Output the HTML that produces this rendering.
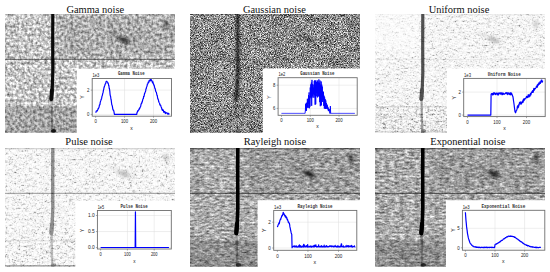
<!DOCTYPE html><html><head><meta charset="utf-8"><style>
html,body{margin:0;padding:0;background:#fff;}
body{width:550px;height:272px;overflow:hidden;position:relative;}
svg{position:absolute;left:0;top:0;}
.t{font-family:"Liberation Serif",serif;font-size:10.45px;fill:#111;}
.k{font-family:"Liberation Sans",sans-serif;fill:#222;}
.m{font-family:"Liberation Mono",monospace;font-weight:bold;fill:#333;}
</style></head><body>
<svg width="550" height="272" viewBox="0 0 550 272">
<defs>
<filter id="bl05" x="-50%" y="-50%" width="200%" height="200%"><feGaussianBlur stdDeviation="0.5"/></filter>
<filter id="bl08" x="-50%" y="-50%" width="200%" height="200%"><feGaussianBlur stdDeviation="0.75"/></filter>
<filter id="bl10" x="-50%" y="-50%" width="200%" height="200%"><feGaussianBlur stdDeviation="1.0"/></filter>
<filter id="bl12" x="-50%" y="-50%" width="200%" height="200%"><feGaussianBlur stdDeviation="1.2"/></filter>
<filter id="bl3" x="-50%" y="-50%" width="200%" height="200%"><feGaussianBlur stdDeviation="3"/></filter>
<filter id="bl15" x="-50%" y="-50%" width="200%" height="200%"><feGaussianBlur stdDeviation="1.5"/></filter>

<filter id="nz0" x="0" y="0" width="100%" height="100%" color-interpolation-filters="sRGB">
<feTurbulence type="fractalNoise" baseFrequency="0.7" numOctaves="1" seed="3" result="t1"/>
<feColorMatrix in="t1" type="matrix" values="1 0 0 0 0  1 0 0 0 0  1 0 0 0 0  0 0 0 0 1" result="f"/>
<feTurbulence type="fractalNoise" baseFrequency="0.35 0.35" numOctaves="2" seed="23" result="t3"/>
<feColorMatrix in="t3" type="matrix" values="1 0 0 0 0  1 0 0 0 0  1 0 0 0 0  0 0 0 0 1" result="d"/>
<feTurbulence type="fractalNoise" baseFrequency="0.05 0.12" numOctaves="2" seed="53" result="t2"/>
<feColorMatrix in="t2" type="matrix" values="1 0 0 0 0  1 0 0 0 0  1 0 0 0 0  0 0 0 0 1" result="c"/>
<feComposite in="f" in2="d" operator="arithmetic" k1="0" k2="0.25" k3="1.05" k4="-0.150" result="m1"/>
<feComposite in="m1" in2="c" operator="arithmetic" k1="0" k2="1" k3="0.15" k4="-0.075" result="m"/>
<feColorMatrix in="m" type="matrix" values="1 0 0 0 0  1 0 0 0 0  1 0 0 0 0  0 0 0 0 1" result="g"/>
<feGaussianBlur in="g" stdDeviation="0.55" result="h"/>
<feComponentTransfer in="h"><feFuncR type="table" tableValues="0.33 1.23"/><feFuncG type="table" tableValues="0.33 1.23"/><feFuncB type="table" tableValues="0.33 1.23"/></feComponentTransfer>
</filter>
<clipPath id="cp0"><rect x="0" y="0" width="170" height="118.7"/></clipPath>
<filter id="nz1" x="0" y="0" width="100%" height="100%" color-interpolation-filters="sRGB">
<feTurbulence type="fractalNoise" baseFrequency="1.3" numOctaves="1" seed="5" result="t1"/>
<feColorMatrix in="t1" type="matrix" values="1 0 0 0 0  1 0 0 0 0  1 0 0 0 0  0 0 0 0 1" result="f"/>
<feTurbulence type="fractalNoise" baseFrequency="0.25 0.45" numOctaves="2" seed="25" result="t3"/>
<feColorMatrix in="t3" type="matrix" values="1 0 0 0 0  1 0 0 0 0  1 0 0 0 0  0 0 0 0 1" result="d"/>
<feTurbulence type="fractalNoise" baseFrequency="0.05 0.12" numOctaves="2" seed="55" result="t2"/>
<feColorMatrix in="t2" type="matrix" values="1 0 0 0 0  1 0 0 0 0  1 0 0 0 0  0 0 0 0 1" result="c"/>
<feComposite in="f" in2="d" operator="arithmetic" k1="0" k2="1.3" k3="0.06" k4="-0.180" result="m1"/>
<feComposite in="m1" in2="c" operator="arithmetic" k1="0" k2="1" k3="0.15" k4="-0.075" result="m"/>
<feColorMatrix in="m" type="matrix" values="1 0 0 0 0  1 0 0 0 0  1 0 0 0 0  0 0 0 0 1" result="g"/>
<feGaussianBlur in="g" stdDeviation="0.7" result="h"/>
<feComponentTransfer in="h"><feFuncR type="table" tableValues="-0.13 1.23"/><feFuncG type="table" tableValues="-0.13 1.23"/><feFuncB type="table" tableValues="-0.13 1.23"/></feComponentTransfer>
</filter>
<clipPath id="cp1"><rect x="0" y="0" width="170" height="118.7"/></clipPath>
<filter id="nz2" x="0" y="0" width="100%" height="100%" color-interpolation-filters="sRGB">
<feTurbulence type="fractalNoise" baseFrequency="0.7" numOctaves="1" seed="7" result="t1"/>
<feColorMatrix in="t1" type="matrix" values="1 0 0 0 0  1 0 0 0 0  1 0 0 0 0  0 0 0 0 1" result="f"/>
<feTurbulence type="fractalNoise" baseFrequency="0.25 0.45" numOctaves="2" seed="27" result="t3"/>
<feColorMatrix in="t3" type="matrix" values="1 0 0 0 0  1 0 0 0 0  1 0 0 0 0  0 0 0 0 1" result="d"/>
<feTurbulence type="fractalNoise" baseFrequency="0.05 0.12" numOctaves="2" seed="57" result="t2"/>
<feColorMatrix in="t2" type="matrix" values="1 0 0 0 0  1 0 0 0 0  1 0 0 0 0  0 0 0 0 1" result="c"/>
<feComposite in="f" in2="d" operator="arithmetic" k1="0" k2="0.8" k3="0.8" k4="-0.300" result="m1"/>
<feComposite in="m1" in2="c" operator="arithmetic" k1="0" k2="1" k3="0.15" k4="-0.075" result="m"/>
<feColorMatrix in="m" type="matrix" values="1 0 0 0 0  1 0 0 0 0  1 0 0 0 0  0 0 0 0 1" result="g"/>
<feGaussianBlur in="g" stdDeviation="0.0" result="h"/>
<feComponentTransfer in="h"><feFuncR type="table" tableValues="0.5 0.68 0.84 0.94 0.98 1 1 1"/><feFuncG type="table" tableValues="0.5 0.68 0.84 0.94 0.98 1 1 1"/><feFuncB type="table" tableValues="0.5 0.68 0.84 0.94 0.98 1 1 1"/></feComponentTransfer>
</filter>
<filter id="nzb2" x="0" y="0" width="100%" height="100%" color-interpolation-filters="sRGB">
<feTurbulence type="fractalNoise" baseFrequency="0.7" numOctaves="1" seed="14" result="t1"/>
<feColorMatrix in="t1" type="matrix" values="1 0 0 0 0  1 0 0 0 0  1 0 0 0 0  0 0 0 0 1" result="f"/>
<feTurbulence type="fractalNoise" baseFrequency="0.25 0.45" numOctaves="2" seed="34" result="t3"/>
<feColorMatrix in="t3" type="matrix" values="1 0 0 0 0  1 0 0 0 0  1 0 0 0 0  0 0 0 0 1" result="d"/>
<feTurbulence type="fractalNoise" baseFrequency="0.05 0.12" numOctaves="2" seed="64" result="t2"/>
<feColorMatrix in="t2" type="matrix" values="1 0 0 0 0  1 0 0 0 0  1 0 0 0 0  0 0 0 0 1" result="c"/>
<feComposite in="f" in2="d" operator="arithmetic" k1="0" k2="0.8" k3="0.8" k4="-0.300" result="m1"/>
<feComposite in="m1" in2="c" operator="arithmetic" k1="0" k2="1" k3="0.15" k4="-0.075" result="m"/>
<feColorMatrix in="m" type="matrix" values="1 0 0 0 0  1 0 0 0 0  1 0 0 0 0  0 0 0 0 1" result="g"/>
<feGaussianBlur in="g" stdDeviation="0.0" result="h"/>
<feComponentTransfer in="h"><feFuncR type="table" tableValues="0.3 0.5 0.72 0.88 0.96 1 1 1"/><feFuncG type="table" tableValues="0.3 0.5 0.72 0.88 0.96 1 1 1"/><feFuncB type="table" tableValues="0.3 0.5 0.72 0.88 0.96 1 1 1"/></feComponentTransfer>
</filter>
<clipPath id="cp2"><rect x="0" y="0" width="170" height="118.7"/></clipPath>
<filter id="nz3" x="0" y="0" width="100%" height="100%" color-interpolation-filters="sRGB">
<feTurbulence type="fractalNoise" baseFrequency="0.7" numOctaves="1" seed="9" result="t1"/>
<feColorMatrix in="t1" type="matrix" values="1 0 0 0 0  1 0 0 0 0  1 0 0 0 0  0 0 0 0 1" result="f"/>
<feTurbulence type="fractalNoise" baseFrequency="0.25 0.45" numOctaves="2" seed="29" result="t3"/>
<feColorMatrix in="t3" type="matrix" values="1 0 0 0 0  1 0 0 0 0  1 0 0 0 0  0 0 0 0 1" result="d"/>
<feTurbulence type="fractalNoise" baseFrequency="0.05 0.12" numOctaves="2" seed="59" result="t2"/>
<feColorMatrix in="t2" type="matrix" values="1 0 0 0 0  1 0 0 0 0  1 0 0 0 0  0 0 0 0 1" result="c"/>
<feComposite in="f" in2="d" operator="arithmetic" k1="0" k2="0.8" k3="0.8" k4="-0.300" result="m1"/>
<feComposite in="m1" in2="c" operator="arithmetic" k1="0" k2="1" k3="0.15" k4="-0.075" result="m"/>
<feColorMatrix in="m" type="matrix" values="1 0 0 0 0  1 0 0 0 0  1 0 0 0 0  0 0 0 0 1" result="g"/>
<feGaussianBlur in="g" stdDeviation="0.0" result="h"/>
<feComponentTransfer in="h"><feFuncR type="table" tableValues="0.45 0.66 0.83 0.94 0.98 1 1 1"/><feFuncG type="table" tableValues="0.45 0.66 0.83 0.94 0.98 1 1 1"/><feFuncB type="table" tableValues="0.45 0.66 0.83 0.94 0.98 1 1 1"/></feComponentTransfer>
</filter>
<filter id="nzb3" x="0" y="0" width="100%" height="100%" color-interpolation-filters="sRGB">
<feTurbulence type="fractalNoise" baseFrequency="0.7" numOctaves="1" seed="16" result="t1"/>
<feColorMatrix in="t1" type="matrix" values="1 0 0 0 0  1 0 0 0 0  1 0 0 0 0  0 0 0 0 1" result="f"/>
<feTurbulence type="fractalNoise" baseFrequency="0.25 0.45" numOctaves="2" seed="36" result="t3"/>
<feColorMatrix in="t3" type="matrix" values="1 0 0 0 0  1 0 0 0 0  1 0 0 0 0  0 0 0 0 1" result="d"/>
<feTurbulence type="fractalNoise" baseFrequency="0.05 0.12" numOctaves="2" seed="66" result="t2"/>
<feColorMatrix in="t2" type="matrix" values="1 0 0 0 0  1 0 0 0 0  1 0 0 0 0  0 0 0 0 1" result="c"/>
<feComposite in="f" in2="d" operator="arithmetic" k1="0" k2="0.8" k3="0.8" k4="-0.300" result="m1"/>
<feComposite in="m1" in2="c" operator="arithmetic" k1="0" k2="1" k3="0.15" k4="-0.075" result="m"/>
<feColorMatrix in="m" type="matrix" values="1 0 0 0 0  1 0 0 0 0  1 0 0 0 0  0 0 0 0 1" result="g"/>
<feGaussianBlur in="g" stdDeviation="0.0" result="h"/>
<feComponentTransfer in="h"><feFuncR type="table" tableValues="0.4 0.6 0.8 0.92 0.98 1 1 1"/><feFuncG type="table" tableValues="0.4 0.6 0.8 0.92 0.98 1 1 1"/><feFuncB type="table" tableValues="0.4 0.6 0.8 0.92 0.98 1 1 1"/></feComponentTransfer>
</filter>
<clipPath id="cp3"><rect x="0" y="0" width="170" height="118.7"/></clipPath>
<filter id="nz4" x="0" y="0" width="100%" height="100%" color-interpolation-filters="sRGB">
<feTurbulence type="fractalNoise" baseFrequency="0.7" numOctaves="1" seed="11" result="t1"/>
<feColorMatrix in="t1" type="matrix" values="1 0 0 0 0  1 0 0 0 0  1 0 0 0 0  0 0 0 0 1" result="f"/>
<feTurbulence type="fractalNoise" baseFrequency="0.2 0.5" numOctaves="2" seed="31" result="t3"/>
<feColorMatrix in="t3" type="matrix" values="1 0 0 0 0  1 0 0 0 0  1 0 0 0 0  0 0 0 0 1" result="d"/>
<feTurbulence type="fractalNoise" baseFrequency="0.05 0.12" numOctaves="2" seed="61" result="t2"/>
<feColorMatrix in="t2" type="matrix" values="1 0 0 0 0  1 0 0 0 0  1 0 0 0 0  0 0 0 0 1" result="c"/>
<feComposite in="f" in2="d" operator="arithmetic" k1="0" k2="0.35" k3="0.9" k4="-0.125" result="m1"/>
<feComposite in="m1" in2="c" operator="arithmetic" k1="0" k2="1" k3="0.15" k4="-0.075" result="m"/>
<feColorMatrix in="m" type="matrix" values="1 0 0 0 0  1 0 0 0 0  1 0 0 0 0  0 0 0 0 1" result="g"/>
<feGaussianBlur in="g" stdDeviation="0.6" result="h"/>
<feComponentTransfer in="h"><feFuncR type="table" tableValues="0.19 1.15"/><feFuncG type="table" tableValues="0.19 1.15"/><feFuncB type="table" tableValues="0.19 1.15"/></feComponentTransfer>
</filter>
<clipPath id="cp4"><rect x="0" y="0" width="170" height="118.7"/></clipPath>
<filter id="nz5" x="0" y="0" width="100%" height="100%" color-interpolation-filters="sRGB">
<feTurbulence type="fractalNoise" baseFrequency="0.7" numOctaves="1" seed="13" result="t1"/>
<feColorMatrix in="t1" type="matrix" values="1 0 0 0 0  1 0 0 0 0  1 0 0 0 0  0 0 0 0 1" result="f"/>
<feTurbulence type="fractalNoise" baseFrequency="0.2 0.5" numOctaves="2" seed="33" result="t3"/>
<feColorMatrix in="t3" type="matrix" values="1 0 0 0 0  1 0 0 0 0  1 0 0 0 0  0 0 0 0 1" result="d"/>
<feTurbulence type="fractalNoise" baseFrequency="0.05 0.12" numOctaves="2" seed="63" result="t2"/>
<feColorMatrix in="t2" type="matrix" values="1 0 0 0 0  1 0 0 0 0  1 0 0 0 0  0 0 0 0 1" result="c"/>
<feComposite in="f" in2="d" operator="arithmetic" k1="0" k2="0.35" k3="0.9" k4="-0.125" result="m1"/>
<feComposite in="m1" in2="c" operator="arithmetic" k1="0" k2="1" k3="0.15" k4="-0.075" result="m"/>
<feColorMatrix in="m" type="matrix" values="1 0 0 0 0  1 0 0 0 0  1 0 0 0 0  0 0 0 0 1" result="g"/>
<feGaussianBlur in="g" stdDeviation="0.6" result="h"/>
<feComponentTransfer in="h"><feFuncR type="table" tableValues="0.19 1.15"/><feFuncG type="table" tableValues="0.19 1.15"/><feFuncB type="table" tableValues="0.19 1.15"/></feComponentTransfer>
</filter>
<clipPath id="cp5"><rect x="0" y="0" width="170" height="118.7"/></clipPath>
</defs>
<g transform="translate(5,14)" clip-path="url(#cp0)">
<rect x="0" y="0" width="170" height="118.7" filter="url(#nz0)"/>
<rect x="0" y="0" width="170" height="1.3" fill="#000" opacity="0.10"/>
<rect x="0" y="117.10000000000001" width="170" height="1.6" fill="#000" opacity="0.10"/>
<rect x="0" y="92.5" width="170" height="27" fill="#000" opacity="0.17"/>
<rect x="0" y="44.8" width="170" height="1.1" fill="#000" opacity="0.50" filter="url(#bl05)"/>
<g opacity="0.95" filter="url(#bl08)">
<path d="M47.8 0 L47.7 30 L47.8 60 L47.2 75 L46.3 85.5" stroke="#000" stroke-width="3.2" fill="none" stroke-linecap="round"/>
<path d="M47.0 76 L46.3 85" stroke="#000" stroke-width="3.9" fill="none" stroke-linecap="round"/>
<path d="M46.6 87 L46.8 100 L47.3 119" stroke="#000" stroke-width="2.2" fill="none" opacity="0.3"/>
<ellipse cx="48.5" cy="117" rx="2.6" ry="2" fill="#000" opacity="0.9"/>
</g>
<rect x="54" y="2" width="116" height="41" fill="#000" opacity="0.12" filter="url(#bl3)"/>
<g opacity="0.72" filter="url(#bl15)">
<ellipse cx="119" cy="26" rx="6" ry="2.6" fill="#000" transform="rotate(22 119 26)"/>
<path d="M104 19 L121 27" stroke="#000" stroke-width="2.2" opacity="0.45"/>
<path d="M121 27 L134 23 M121 27 L130 34" stroke="#000" stroke-width="1.2" opacity="0.3"/>
<ellipse cx="161" cy="10" rx="2.5" ry="4" fill="#000" opacity="0.7"/>
</g>
</g>
<text class="t" x="95.3" y="12.9" text-anchor="middle">Gamma noise</text>
<g transform="translate(190,14)" clip-path="url(#cp1)">
<rect x="0" y="0" width="170" height="118.7" filter="url(#nz1)"/>
<rect x="0" y="0" width="170" height="1.3" fill="#000" opacity="0.15"/>
<rect x="0" y="117.10000000000001" width="170" height="1.6" fill="#000" opacity="0.10"/>
<rect x="0" y="92.5" width="170" height="27" fill="#000" opacity="0.05"/>
<rect x="0" y="44.8" width="170" height="1.1" fill="#000" opacity="0.20" filter="url(#bl05)"/>
<g opacity="0.70" filter="url(#bl12)">
<path d="M47.8 0 L47.7 30 L47.8 60 L47.2 75 L46.3 85.5" stroke="#000" stroke-width="3.6" fill="none" stroke-linecap="round"/>
<path d="M47.0 76 L46.3 85" stroke="#000" stroke-width="4.3" fill="none" stroke-linecap="round"/>
<path d="M46.6 87 L46.8 100 L47.3 119" stroke="#000" stroke-width="2.5" fill="none" opacity="0.2"/>
<ellipse cx="48.5" cy="117" rx="2.6" ry="2" fill="#000" opacity="0.6"/>
</g>
<rect x="54" y="2" width="116" height="41" fill="#000" opacity="0.00" filter="url(#bl3)"/>
<g opacity="0.40" filter="url(#bl15)">
<ellipse cx="119" cy="26" rx="6" ry="2.6" fill="#000" transform="rotate(22 119 26)"/>
<path d="M104 19 L121 27" stroke="#000" stroke-width="2.2" opacity="0.45"/>
<path d="M121 27 L134 23 M121 27 L130 34" stroke="#000" stroke-width="1.2" opacity="0.3"/>
<ellipse cx="161" cy="10" rx="2.5" ry="4" fill="#000" opacity="0.7"/>
</g>
</g>
<text class="t" x="274.4" y="12.9" text-anchor="middle">Gaussian noise</text>
<g transform="translate(375,14)" clip-path="url(#cp2)">
<rect x="0" y="0" width="170" height="118.7" filter="url(#nz2)"/>
<rect x="0" y="92.5" width="170" height="26.200000000000003" filter="url(#nzb2)"/>
<rect x="0" y="0" width="170" height="1.3" fill="#000" opacity="0.05"/>
<rect x="0" y="117.10000000000001" width="170" height="1.6" fill="#000" opacity="0.10"/>
<rect x="-4" y="-4" width="48" height="44" fill="#fff" opacity="0.5" filter="url(#bl3)"/>
<rect x="0" y="92.3" width="170" height="1" fill="#000" opacity="0.12"/>
<rect x="0" y="92.5" width="170" height="27" fill="#000" opacity="0.00"/>
<rect x="0" y="44.8" width="170" height="1.1" fill="#000" opacity="0.06" filter="url(#bl05)"/>
<g opacity="0.68" filter="url(#bl08)">
<path d="M47.8 0 L47.7 30 L47.8 60 L47.2 75 L46.3 85.5" stroke="#000" stroke-width="3.2" fill="none" stroke-linecap="round"/>
<path d="M47.0 76 L46.3 85" stroke="#000" stroke-width="3.9" fill="none" stroke-linecap="round"/>
<path d="M46.6 87 L46.8 100 L47.3 119" stroke="#000" stroke-width="2.2" fill="none" opacity="0.5"/>
<ellipse cx="48.5" cy="117" rx="2.6" ry="2" fill="#000" opacity="0.6"/>
</g>
<rect x="54" y="2" width="116" height="41" fill="#000" opacity="0.00" filter="url(#bl3)"/>
<g opacity="0.24" filter="url(#bl15)">
<ellipse cx="119" cy="26" rx="6" ry="2.6" fill="#000" transform="rotate(22 119 26)"/>
<path d="M104 19 L121 27" stroke="#000" stroke-width="2.2" opacity="0.45"/>
<path d="M121 27 L134 23 M121 27 L130 34" stroke="#000" stroke-width="1.2" opacity="0.3"/>
<ellipse cx="161" cy="10" rx="2.5" ry="4" fill="#000" opacity="0.7"/>
</g>
</g>
<text class="t" x="459" y="12.9" text-anchor="middle">Uniform noise</text>
<g transform="translate(5,148)" clip-path="url(#cp3)">
<rect x="0" y="0" width="170" height="118.7" filter="url(#nz3)"/>
<rect x="0" y="92.5" width="170" height="26.200000000000003" filter="url(#nzb3)"/>
<rect x="0" y="0" width="170" height="1.3" fill="#000" opacity="0.15"/>
<rect x="0" y="117.10000000000001" width="170" height="1.6" fill="#000" opacity="0.35"/>
<rect x="0" y="92.3" width="170" height="1" fill="#000" opacity="0.1"/>
<rect x="0" y="92.5" width="170" height="27" fill="#000" opacity="0.00"/>
<rect x="0" y="44.8" width="170" height="1.1" fill="#000" opacity="0.35" filter="url(#bl05)"/>
<g opacity="0.42" filter="url(#bl08)">
<path d="M47.8 0 L47.7 30 L47.8 60 L47.2 75 L46.3 85.5" stroke="#000" stroke-width="3.4" fill="none" stroke-linecap="round"/>
<path d="M47.0 76 L46.3 85" stroke="#000" stroke-width="4.1" fill="none" stroke-linecap="round"/>
<path d="M46.6 87 L46.8 100 L47.3 119" stroke="#000" stroke-width="2.4" fill="none" opacity="0.55"/>
<ellipse cx="48.5" cy="117" rx="2.6" ry="2" fill="#000" opacity="0.6"/>
</g>
<rect x="54" y="2" width="116" height="41" fill="#000" opacity="0.00" filter="url(#bl3)"/>
<g opacity="0.24" filter="url(#bl15)">
<ellipse cx="119" cy="26" rx="6" ry="2.6" fill="#000" transform="rotate(22 119 26)"/>
<path d="M104 19 L121 27" stroke="#000" stroke-width="2.2" opacity="0.45"/>
<path d="M121 27 L134 23 M121 27 L130 34" stroke="#000" stroke-width="1.2" opacity="0.3"/>
<ellipse cx="161" cy="10" rx="2.5" ry="4" fill="#000" opacity="0.7"/>
</g>
</g>
<text class="t" x="89" y="144.7" text-anchor="middle">Pulse noise</text>
<g transform="translate(190,148)" clip-path="url(#cp4)">
<rect x="0" y="0" width="170" height="118.7" filter="url(#nz4)"/>
<rect x="0" y="0" width="170" height="1.3" fill="#000" opacity="0.40"/>
<rect x="0" y="117.10000000000001" width="170" height="1.6" fill="#000" opacity="0.10"/>
<rect x="0" y="92.5" width="170" height="27" fill="#000" opacity="0.17"/>
<rect x="0" y="44.8" width="170" height="1.1" fill="#000" opacity="0.55" filter="url(#bl05)"/>
<g opacity="1.00" filter="url(#bl08)">
<path d="M47.8 0 L47.7 30 L47.8 60 L47.2 75 L46.3 85.5" stroke="#000" stroke-width="3.6" fill="none" stroke-linecap="round"/>
<path d="M47.0 76 L46.3 85" stroke="#000" stroke-width="4.3" fill="none" stroke-linecap="round"/>
<path d="M46.6 87 L46.8 100 L47.3 119" stroke="#000" stroke-width="2.5" fill="none" opacity="0.3"/>
<ellipse cx="48.5" cy="117" rx="2.6" ry="2" fill="#000" opacity="0.6"/>
</g>
<rect x="54" y="2" width="116" height="41" fill="#000" opacity="0.08" filter="url(#bl3)"/>
<g opacity="0.80" filter="url(#bl15)">
<ellipse cx="119" cy="26" rx="6" ry="2.6" fill="#000" transform="rotate(22 119 26)"/>
<path d="M104 19 L121 27" stroke="#000" stroke-width="2.2" opacity="0.45"/>
<path d="M121 27 L134 23 M121 27 L130 34" stroke="#000" stroke-width="1.2" opacity="0.3"/>
<ellipse cx="161" cy="10" rx="2.5" ry="4" fill="#000" opacity="0.7"/>
</g>
</g>
<text class="t" x="274.9" y="144.7" text-anchor="middle">Rayleigh noise</text>
<g transform="translate(375,148)" clip-path="url(#cp5)">
<rect x="0" y="0" width="170" height="118.7" filter="url(#nz5)"/>
<rect x="0" y="0" width="170" height="1.3" fill="#000" opacity="0.40"/>
<rect x="0" y="117.10000000000001" width="170" height="1.6" fill="#000" opacity="0.10"/>
<rect x="0" y="92.5" width="170" height="27" fill="#000" opacity="0.17"/>
<rect x="0" y="44.8" width="170" height="1.1" fill="#000" opacity="0.55" filter="url(#bl05)"/>
<g opacity="1.00" filter="url(#bl08)">
<path d="M47.8 0 L47.7 30 L47.8 60 L47.2 75 L46.3 85.5" stroke="#000" stroke-width="3.6" fill="none" stroke-linecap="round"/>
<path d="M47.0 76 L46.3 85" stroke="#000" stroke-width="4.3" fill="none" stroke-linecap="round"/>
<path d="M46.6 87 L46.8 100 L47.3 119" stroke="#000" stroke-width="2.5" fill="none" opacity="0.3"/>
<ellipse cx="48.5" cy="117" rx="2.6" ry="2" fill="#000" opacity="0.6"/>
</g>
<rect x="54" y="2" width="116" height="41" fill="#000" opacity="0.08" filter="url(#bl3)"/>
<g opacity="0.80" filter="url(#bl15)">
<ellipse cx="119" cy="26" rx="6" ry="2.6" fill="#000" transform="rotate(22 119 26)"/>
<path d="M104 19 L121 27" stroke="#000" stroke-width="2.2" opacity="0.45"/>
<path d="M121 27 L134 23 M121 27 L130 34" stroke="#000" stroke-width="1.2" opacity="0.3"/>
<ellipse cx="161" cy="10" rx="2.5" ry="4" fill="#000" opacity="0.7"/>
</g>
</g>
<text class="t" x="467.8" y="144.7" text-anchor="middle">Exponential noise</text>
<rect x="76.7" y="68.7" width="99.3" height="64.3" fill="#fff"/>
<line x1="124.55" y1="78.5" x2="124.55" y2="116.2" stroke="#dcdcdc" stroke-width="0.5"/>
<line x1="153.50" y1="78.5" x2="153.50" y2="116.2" stroke="#dcdcdc" stroke-width="0.5"/>
<line x1="92.2" y1="114.40" x2="171.5" y2="114.40" stroke="#dcdcdc" stroke-width="0.5"/>
<line x1="92.2" y1="90.10" x2="171.5" y2="90.10" stroke="#dcdcdc" stroke-width="0.5"/>
<polyline points="95.60,112.73 95.89,112.30 96.18,111.47 96.47,110.76 96.76,110.76 97.05,110.81 97.34,110.93 97.63,109.94 97.92,109.21 98.21,108.36 98.49,108.71 98.78,107.69 99.07,107.22 99.36,105.35 99.65,104.64 99.94,104.66 100.23,102.31 100.52,101.31 100.81,100.69 101.10,99.64 101.39,99.16 101.68,98.20 101.97,96.27 102.26,95.75 102.55,94.35 102.84,93.08 103.13,92.20 103.42,90.40 103.71,89.30 104.00,87.63 104.28,87.07 104.57,85.92 104.86,85.23 105.15,84.18 105.44,83.76 105.73,83.39 106.02,81.82 106.31,81.41 106.60,81.34 106.89,81.35 107.18,81.86 107.47,82.14 107.76,82.49 108.05,83.53 108.34,83.50 108.63,85.26 108.92,86.03 109.21,88.30 109.50,89.19 109.79,91.17 110.07,94.28 110.36,95.87 110.65,96.73 110.94,99.20 111.23,100.21 111.52,102.73 111.81,104.75 112.10,105.37 112.39,106.45 112.68,108.35 112.97,109.66 113.26,110.20 113.55,110.07 113.84,111.05 114.13,112.55 114.42,114.40 114.71,114.40 115.00,114.40 115.29,114.40 115.58,114.40 115.86,114.40 116.15,114.40 116.44,114.40 116.73,114.40 117.02,114.40 117.31,114.40 117.60,114.40 117.89,114.40 118.18,114.40 118.47,114.40 118.76,114.40 119.05,114.40 119.34,114.40 119.63,114.40 119.92,114.40 120.21,114.40 120.50,114.40 120.79,114.40 121.08,114.40 121.37,114.40 121.66,114.40 121.94,114.40 122.23,114.40 122.52,114.40 122.81,114.40 123.10,114.40 123.39,114.40 123.68,114.40 123.97,114.40 124.26,114.40 124.55,114.40 124.84,114.40 125.13,114.40 125.42,114.40 125.71,114.40 126.00,114.40 126.29,114.40 126.58,114.40 126.87,114.40 127.16,114.40 127.44,114.40 127.73,114.40 128.02,114.40 128.31,114.40 128.60,114.40 128.89,114.40 129.18,114.40 129.47,114.40 129.76,114.40 130.05,114.40 130.34,114.40 130.63,114.40 130.92,114.40 131.21,114.40 131.50,114.40 131.79,114.40 132.08,114.40 132.37,114.40 132.66,114.40 132.95,114.40 133.23,114.40 133.52,114.40 133.81,114.40 134.10,114.40 134.39,114.40 134.68,114.40 134.97,114.40 135.26,114.40 135.55,114.40 135.84,114.40 136.13,114.40 136.42,114.40 136.71,114.40 137.00,112.54 137.29,112.32 137.58,110.74 137.87,111.45 138.16,110.42 138.45,110.20 138.74,110.20 139.02,108.80 139.31,109.32 139.60,107.90 139.89,108.22 140.18,107.09 140.47,106.80 140.76,106.02 141.05,104.10 141.34,103.63 141.63,103.69 141.92,101.88 142.21,102.17 142.50,100.98 142.79,99.28 143.08,98.71 143.37,98.67 143.66,96.19 143.95,96.52 144.24,95.44 144.53,93.56 144.81,93.30 145.10,92.35 145.39,91.74 145.68,90.72 145.97,88.92 146.26,88.55 146.55,87.03 146.84,86.54 147.13,85.56 147.42,83.91 147.71,83.97 148.00,83.13 148.29,82.00 148.58,82.60 148.87,82.15 149.16,80.44 149.45,80.24 149.74,80.92 150.03,80.83 150.32,79.77 150.60,79.39 150.89,80.69 151.18,79.53 151.47,79.85 151.76,80.60 152.05,81.27 152.34,82.23 152.63,82.84 152.92,81.84 153.21,83.70 153.50,83.60 153.79,85.10 154.08,84.93 154.37,86.16 154.66,87.55 154.95,88.67 155.24,88.68 155.53,90.76 155.82,91.47 156.11,91.91 156.39,92.41 156.68,93.83 156.97,95.40 157.26,95.32 157.55,97.52 157.84,98.82 158.13,99.34 158.42,99.98 158.71,101.54 159.00,102.23 159.29,102.76 159.58,103.23 159.87,104.77 160.16,105.14 160.45,104.96 160.74,105.49 161.03,106.69 161.32,107.25 161.61,108.01 161.90,109.30 162.19,109.99 162.47,110.49 162.76,109.41 163.05,110.18 163.34,110.11 163.63,112.06 163.92,111.34 164.21,111.89 164.50,111.74 164.79,112.68 165.08,111.75 165.37,113.52 165.66,112.91 165.95,112.75 166.24,112.62 166.53,113.03 166.82,113.20 167.11,113.16 167.40,113.04 167.69,114.09 167.97,113.59 168.26,113.29 168.55,113.40 168.84,114.22 169.13,113.63 169.42,113.55" fill="none" stroke="#0000ff" stroke-width="1.2" stroke-linejoin="round"/>
<rect x="92.2" y="78.5" width="79.3" height="37.7" fill="none" stroke="#6e6e6e" stroke-width="0.9"/>
<line x1="95.60" y1="116.2" x2="95.60" y2="117.7" stroke="#6e6e6e" stroke-width="0.6"/>
<text class="k" x="95.60" y="123.3" text-anchor="middle" font-size="4.99" textLength="2.40" lengthAdjust="spacingAndGlyphs">0</text>
<line x1="124.55" y1="116.2" x2="124.55" y2="117.7" stroke="#6e6e6e" stroke-width="0.6"/>
<text class="k" x="124.55" y="123.3" text-anchor="middle" font-size="4.99" textLength="7.19" lengthAdjust="spacingAndGlyphs">100</text>
<line x1="153.50" y1="116.2" x2="153.50" y2="117.7" stroke="#6e6e6e" stroke-width="0.6"/>
<text class="k" x="153.50" y="123.3" text-anchor="middle" font-size="4.99" textLength="7.19" lengthAdjust="spacingAndGlyphs">200</text>
<line x1="90.7" y1="114.40" x2="92.2" y2="114.40" stroke="#6e6e6e" stroke-width="0.6"/>
<text class="k" x="89.4" y="116.20" text-anchor="end" font-size="4.99" textLength="2.40" lengthAdjust="spacingAndGlyphs">0</text>
<line x1="90.7" y1="90.10" x2="92.2" y2="90.10" stroke="#6e6e6e" stroke-width="0.6"/>
<text class="k" x="89.4" y="91.90" text-anchor="end" font-size="4.99" textLength="2.40" lengthAdjust="spacingAndGlyphs">2</text>
<text class="k" x="92.5" y="76.7" font-size="4.99" textLength="6.83" lengthAdjust="spacingAndGlyphs">1e3</text>
<text class="m" x="131.25" y="75.4" text-anchor="middle" font-size="5.19" textLength="26.7" lengthAdjust="spacingAndGlyphs">Gamma Noise</text>
<text class="k" x="131.6" y="129.8" text-anchor="middle" font-size="4.99">x</text>
<text class="k" transform="translate(84.4,97.2) rotate(-90)" text-anchor="middle" font-size="4.99">Y</text>
<rect x="262.8" y="68.5" width="98.19999999999999" height="64.5" fill="#fff"/>
<line x1="310.25" y1="77.7" x2="310.25" y2="115.3" stroke="#dcdcdc" stroke-width="0.5"/>
<line x1="339.00" y1="77.7" x2="339.00" y2="115.3" stroke="#dcdcdc" stroke-width="0.5"/>
<line x1="278.1" y1="108.40" x2="357.2" y2="108.40" stroke="#dcdcdc" stroke-width="0.5"/>
<line x1="278.1" y1="85.20" x2="357.2" y2="85.20" stroke="#dcdcdc" stroke-width="0.5"/>
<polyline points="281.50,113.39 281.79,113.39 282.07,113.39 282.36,113.39 282.65,113.39 282.94,113.39 283.23,113.39 283.51,113.39 283.80,113.39 284.09,113.39 284.38,113.39 284.66,113.39 284.95,113.39 285.24,113.39 285.52,113.39 285.81,113.39 286.10,113.39 286.39,113.39 286.68,113.39 286.96,113.39 287.25,113.39 287.54,113.39 287.82,113.39 288.11,113.39 288.40,113.39 288.69,113.39 288.98,113.39 289.26,113.39 289.55,113.39 289.84,113.39 290.12,113.39 290.41,113.39 290.70,113.39 290.99,113.39 291.27,113.39 291.56,113.39 291.85,113.39 292.14,113.39 292.43,113.39 292.71,113.39 293.00,113.39 293.29,113.39 293.57,113.39 293.86,113.39 294.15,113.39 294.44,113.39 294.73,113.39 295.01,113.39 295.30,113.39 295.59,113.39 295.88,113.39 296.16,113.39 296.45,113.39 296.74,113.39 297.02,113.39 297.31,113.39 297.60,113.39 297.89,113.39 298.18,113.39 298.46,113.39 298.75,113.39 299.04,113.39 299.32,113.39 299.61,113.39 299.90,113.39 300.19,113.39 300.48,113.39 300.76,113.39 301.05,113.39 301.34,113.39 301.62,113.39 301.91,113.39 302.20,113.39 302.49,113.39 302.77,113.39 303.06,113.39 303.35,113.39 303.64,113.39 303.93,113.39 304.21,113.39 304.50,113.39 304.79,113.39 305.07,113.39 305.36,110.40 305.65,104.12 305.94,111.01 306.23,102.92 306.51,110.68 306.80,102.74 307.09,107.88 307.38,98.79 307.66,107.12 307.95,101.21 308.24,107.89 308.52,95.20 308.81,103.89 309.10,92.40 309.39,108.27 309.68,96.31 309.96,106.58 310.25,87.52 310.54,97.35 310.82,84.40 311.11,98.37 311.40,82.58 311.69,105.79 311.98,79.88 312.26,96.07 312.55,84.29 312.84,97.53 313.12,84.60 313.41,94.31 313.70,87.54 313.99,97.70 314.27,81.06 314.56,95.31 314.85,80.20 315.14,104.73 315.43,80.67 315.71,104.20 316.00,85.02 316.29,96.25 316.57,81.92 316.86,93.06 317.15,80.30 317.44,97.39 317.73,81.25 318.01,93.61 318.30,82.56 318.59,96.32 318.88,79.40 319.16,96.58 319.45,82.74 319.74,102.16 320.02,80.55 320.31,106.20 320.60,84.70 320.89,104.98 321.18,81.53 321.46,105.43 321.75,84.61 322.04,96.65 322.32,86.63 322.61,101.89 322.90,91.23 323.19,99.76 323.48,92.13 323.76,105.92 324.05,95.73 324.34,108.49 324.62,97.30 324.91,108.50 325.20,99.19 325.49,108.95 325.77,100.45 326.06,109.00 326.35,102.95 326.64,108.16 326.93,104.48 327.21,109.02 327.50,105.50 327.79,109.39 328.07,107.38 328.36,111.12 328.65,108.68 328.94,110.98 329.23,109.01 329.51,112.20 329.80,113.39 330.09,113.39 330.38,106.08 330.66,113.39 330.95,113.39 331.24,113.39 331.52,113.39 331.81,113.39 332.10,113.39 332.39,113.39 332.68,113.39 332.96,113.39 333.25,113.39 333.54,113.39 333.82,113.39 334.11,113.39 334.40,113.39 334.69,113.39 334.98,113.39 335.26,113.39 335.55,113.39 335.84,113.39 336.12,113.39 336.41,113.39 336.70,113.39 336.99,113.39 337.27,113.39 337.56,113.39 337.85,113.39 338.14,113.39 338.43,113.39 338.71,113.39 339.00,113.39 339.29,113.39 339.57,113.39 339.86,113.39 340.15,113.39 340.44,113.39 340.73,113.39 341.01,113.39 341.30,113.39 341.59,113.39 341.88,113.39 342.16,113.39 342.45,113.39 342.74,113.39 343.02,113.39 343.31,113.39 343.60,113.39 343.89,113.39 344.18,113.39 344.46,113.39 344.75,113.39 345.04,113.39 345.32,113.39 345.61,113.39 345.90,113.39 346.19,113.39 346.48,113.39 346.76,113.39 347.05,113.39 347.34,113.39 347.62,113.39 347.91,113.39 348.20,113.39 348.49,113.39 348.77,113.39 349.06,113.39 349.35,113.39 349.64,113.39 349.93,113.39 350.21,113.39 350.50,113.39 350.79,113.39 351.07,113.39 351.36,113.39 351.65,113.39 351.94,113.39 352.23,113.39 352.51,113.39 352.80,113.39 353.09,113.39 353.38,113.39 353.66,113.39 353.95,113.39 354.24,113.39 354.52,113.39 354.81,113.39" fill="none" stroke="#0000ff" stroke-width="0.9" stroke-linejoin="round"/>
<rect x="278.1" y="77.7" width="79.09999999999997" height="37.599999999999994" fill="none" stroke="#6e6e6e" stroke-width="0.9"/>
<line x1="281.50" y1="115.3" x2="281.50" y2="116.8" stroke="#6e6e6e" stroke-width="0.6"/>
<text class="k" x="281.50" y="122.3" text-anchor="middle" font-size="4.96" textLength="2.38" lengthAdjust="spacingAndGlyphs">0</text>
<line x1="310.25" y1="115.3" x2="310.25" y2="116.8" stroke="#6e6e6e" stroke-width="0.6"/>
<text class="k" x="310.25" y="122.3" text-anchor="middle" font-size="4.96" textLength="7.14" lengthAdjust="spacingAndGlyphs">100</text>
<line x1="339.00" y1="115.3" x2="339.00" y2="116.8" stroke="#6e6e6e" stroke-width="0.6"/>
<text class="k" x="339.00" y="122.3" text-anchor="middle" font-size="4.96" textLength="7.14" lengthAdjust="spacingAndGlyphs">200</text>
<line x1="276.6" y1="108.40" x2="278.1" y2="108.40" stroke="#6e6e6e" stroke-width="0.6"/>
<text class="k" x="275.3" y="110.20" text-anchor="end" font-size="4.96" textLength="2.38" lengthAdjust="spacingAndGlyphs">6</text>
<line x1="276.6" y1="85.20" x2="278.1" y2="85.20" stroke="#6e6e6e" stroke-width="0.6"/>
<text class="k" x="275.3" y="87.00" text-anchor="end" font-size="4.96" textLength="2.38" lengthAdjust="spacingAndGlyphs">8</text>
<text class="k" x="278.40000000000003" y="76.3" font-size="4.96" textLength="6.78" lengthAdjust="spacingAndGlyphs">1e2</text>
<text class="m" x="317.3" y="75.2" text-anchor="middle" font-size="5.16" textLength="34.2" lengthAdjust="spacingAndGlyphs">Gaussian Noise</text>
<text class="k" x="317.5" y="128.2" text-anchor="middle" font-size="4.96">x</text>
<text class="k" transform="translate(271.2,97) rotate(-90)" text-anchor="middle" font-size="4.96">Y</text>
<rect x="447" y="68.4" width="103" height="64.6" fill="#fff"/>
<line x1="497.00" y1="78.4" x2="497.00" y2="116.6" stroke="#dcdcdc" stroke-width="0.5"/>
<line x1="526.50" y1="78.4" x2="526.50" y2="116.6" stroke="#dcdcdc" stroke-width="0.5"/>
<line x1="463.7" y1="115.10" x2="545.2" y2="115.10" stroke="#dcdcdc" stroke-width="0.5"/>
<line x1="463.7" y1="92.10" x2="545.2" y2="92.10" stroke="#dcdcdc" stroke-width="0.5"/>
<polyline points="467.50,115.10 467.80,115.10 468.09,115.10 468.38,115.10 468.68,115.10 468.98,115.10 469.27,115.10 469.56,115.10 469.86,115.10 470.15,115.10 470.45,115.10 470.75,115.10 471.04,115.10 471.33,115.10 471.63,115.10 471.93,115.10 472.22,115.10 472.51,115.10 472.81,115.10 473.11,115.10 473.40,115.10 473.69,115.10 473.99,115.10 474.29,115.10 474.58,115.10 474.88,115.10 475.17,115.10 475.46,115.10 475.76,115.10 476.06,115.10 476.35,115.10 476.64,115.10 476.94,115.10 477.24,115.10 477.53,115.10 477.82,115.10 478.12,115.10 478.42,115.10 478.71,115.10 479.00,115.10 479.30,115.10 479.60,115.10 479.89,115.10 480.19,115.10 480.48,115.10 480.77,115.10 481.07,115.10 481.37,115.10 481.66,115.10 481.95,115.10 482.25,115.10 482.55,115.10 482.84,115.10 483.13,115.10 483.43,115.10 483.73,115.10 484.02,115.10 484.31,115.10 484.61,115.10 484.90,115.10 485.20,115.10 485.50,115.10 485.79,115.10 486.08,115.10 486.38,115.10 486.68,115.10 486.97,115.10 487.26,115.10 487.56,115.10 487.86,115.10 488.15,115.10 488.44,115.10 488.74,115.10 489.04,115.10 489.33,115.10 489.62,115.10 489.92,115.10 490.21,115.10 490.51,115.10 490.81,115.10 491.10,94.43 491.39,93.72 491.69,94.12 491.99,93.59 492.28,93.54 492.57,94.82 492.87,94.94 493.17,93.05 493.46,94.38 493.75,94.44 494.05,92.69 494.35,93.89 494.64,93.05 494.94,93.88 495.23,93.51 495.52,94.63 495.82,93.51 496.12,92.98 496.41,93.77 496.70,93.27 497.00,93.43 497.30,94.83 497.59,93.23 497.88,93.62 498.18,94.28 498.48,94.90 498.77,92.98 499.06,93.89 499.36,93.32 499.65,92.95 499.95,93.33 500.25,92.86 500.54,94.07 500.83,93.13 501.13,93.95 501.43,92.82 501.72,92.95 502.01,94.75 502.31,94.66 502.61,94.48 502.90,92.75 503.19,93.97 503.49,93.53 503.78,94.28 504.08,93.81 504.38,94.09 504.67,94.17 504.96,93.63 505.26,93.63 505.56,92.90 505.85,93.41 506.14,92.84 506.44,93.01 506.74,92.70 507.03,93.43 507.32,94.60 507.62,93.00 507.92,92.76 508.21,92.89 508.50,93.67 508.80,93.33 509.10,94.49 509.39,93.06 509.69,93.66 509.98,94.32 510.27,94.83 510.57,93.01 510.87,92.70 511.16,94.77 511.45,93.13 511.75,93.82 512.04,94.54 512.34,95.26 512.63,95.98 512.93,96.70 513.23,98.71 513.52,100.72 513.82,102.74 514.11,104.75 514.40,107.05 514.70,109.35 515.00,111.65 515.29,112.22 515.59,112.80 515.88,111.83 516.17,110.87 516.47,110.19 516.76,110.06 517.06,108.63 517.36,106.63 517.65,105.82 517.95,108.01 518.24,105.70 518.53,107.06 518.83,104.42 519.12,105.19 519.42,102.95 519.72,102.36 520.01,103.63 520.30,101.77 520.60,103.72 520.89,104.21 521.19,102.26 521.49,103.82 521.78,103.02 522.08,102.08 522.37,101.16 522.66,102.35 522.96,102.45 523.25,99.53 523.55,101.05 523.85,98.71 524.14,98.64 524.43,100.04 524.73,99.51 525.02,99.05 525.32,98.39 525.62,98.28 525.91,98.13 526.21,97.67 526.50,96.37 526.79,97.50 527.09,97.48 527.38,96.28 527.68,97.57 527.98,97.10 528.27,94.65 528.57,95.86 528.86,95.50 529.15,96.97 529.45,95.40 529.75,94.60 530.04,96.05 530.34,93.77 530.63,93.36 530.92,94.85 531.22,92.66 531.51,92.83 531.81,91.78 532.11,92.48 532.40,90.98 532.69,90.52 532.99,92.47 533.28,91.99 533.58,89.65 533.88,88.37 534.17,90.30 534.47,89.29 534.76,88.49 535.05,89.01 535.35,88.51 535.64,88.32 535.94,87.78 536.24,86.70 536.53,87.29 536.83,86.69 537.12,85.06 537.41,87.10 537.71,85.00 538.00,84.10 538.30,85.12 538.60,85.04 538.89,82.81 539.18,84.27 539.48,84.08 539.77,82.93 540.07,81.72 540.37,83.29 540.66,82.22 540.96,81.83 541.25,80.20 541.54,81.45 541.84,80.09 542.13,82.28 542.43,81.72 542.73,80.69" fill="none" stroke="#0000ff" stroke-width="1.2" stroke-linejoin="round"/>
<rect x="463.7" y="78.4" width="81.50000000000006" height="38.19999999999999" fill="none" stroke="#6e6e6e" stroke-width="0.9"/>
<line x1="467.50" y1="116.6" x2="467.50" y2="118.1" stroke="#6e6e6e" stroke-width="0.6"/>
<text class="k" x="467.50" y="123.6" text-anchor="middle" font-size="5.09" textLength="2.44" lengthAdjust="spacingAndGlyphs">0</text>
<line x1="497.00" y1="116.6" x2="497.00" y2="118.1" stroke="#6e6e6e" stroke-width="0.6"/>
<text class="k" x="497.00" y="123.6" text-anchor="middle" font-size="5.09" textLength="7.32" lengthAdjust="spacingAndGlyphs">100</text>
<line x1="526.50" y1="116.6" x2="526.50" y2="118.1" stroke="#6e6e6e" stroke-width="0.6"/>
<text class="k" x="526.50" y="123.6" text-anchor="middle" font-size="5.09" textLength="7.32" lengthAdjust="spacingAndGlyphs">200</text>
<line x1="462.2" y1="115.10" x2="463.7" y2="115.10" stroke="#6e6e6e" stroke-width="0.6"/>
<text class="k" x="460.9" y="116.90" text-anchor="end" font-size="5.09" textLength="2.44" lengthAdjust="spacingAndGlyphs">0</text>
<line x1="462.2" y1="92.10" x2="463.7" y2="92.10" stroke="#6e6e6e" stroke-width="0.6"/>
<text class="k" x="460.9" y="93.90" text-anchor="end" font-size="5.09" textLength="2.44" lengthAdjust="spacingAndGlyphs">2</text>
<text class="k" x="464.0" y="76.6" font-size="5.09" textLength="6.96" lengthAdjust="spacingAndGlyphs">1e3</text>
<text class="m" x="504.2" y="75.5" text-anchor="middle" font-size="5.29" textLength="33.0" lengthAdjust="spacingAndGlyphs">Uniform Noise</text>
<text class="k" x="504.6" y="129.8" text-anchor="middle" font-size="5.09">x</text>
<text class="k" transform="translate(456.1,97.8) rotate(-90)" text-anchor="middle" font-size="5.09">Y</text>
<rect x="75.3" y="200.9" width="100.7" height="67.1" fill="#fff"/>
<line x1="127.40" y1="210.5" x2="127.40" y2="249" stroke="#dcdcdc" stroke-width="0.5"/>
<line x1="154.20" y1="210.5" x2="154.20" y2="249" stroke="#dcdcdc" stroke-width="0.5"/>
<line x1="97.4" y1="247.60" x2="171.3" y2="247.60" stroke="#dcdcdc" stroke-width="0.5"/>
<line x1="97.4" y1="231.55" x2="171.3" y2="231.55" stroke="#dcdcdc" stroke-width="0.5"/>
<line x1="97.4" y1="215.50" x2="171.3" y2="215.50" stroke="#dcdcdc" stroke-width="0.5"/>
<polyline points="100.60,247.50 100.87,247.50 101.14,247.50 101.40,247.50 101.67,247.50 101.94,247.50 102.21,247.50 102.48,247.50 102.74,247.50 103.01,247.50 103.28,247.50 103.55,247.50 103.82,247.50 104.08,247.50 104.35,247.50 104.62,247.50 104.89,247.50 105.16,247.50 105.42,247.50 105.69,247.50 105.96,247.50 106.23,247.50 106.50,247.50 106.76,247.50 107.03,247.50 107.30,247.50 107.57,247.50 107.84,247.50 108.10,247.50 108.37,247.50 108.64,247.50 108.91,247.50 109.18,247.50 109.44,247.50 109.71,247.50 109.98,247.50 110.25,247.50 110.52,247.50 110.78,247.50 111.05,247.50 111.32,247.50 111.59,247.50 111.86,247.50 112.12,247.50 112.39,247.50 112.66,247.50 112.93,247.50 113.20,247.50 113.46,247.50 113.73,247.50 114.00,247.50 114.27,247.50 114.54,247.50 114.80,247.50 115.07,247.50 115.34,247.50 115.61,247.50 115.88,247.50 116.14,247.50 116.41,247.50 116.68,247.50 116.95,247.50 117.22,247.50 117.48,247.50 117.75,247.50 118.02,247.50 118.29,247.50 118.56,247.50 118.82,247.50 119.09,247.50 119.36,247.50 119.63,247.50 119.90,247.50 120.16,247.50 120.43,247.50 120.70,247.50 120.97,247.50 121.24,247.50 121.50,247.50 121.77,247.50 122.04,247.50 122.31,247.50 122.58,247.50 122.84,247.50 123.11,247.50 123.38,247.50 123.65,247.50 123.92,247.50 124.18,247.50 124.45,247.50 124.72,247.50 124.99,247.50 125.26,247.50 125.52,247.50 125.79,247.50 126.06,247.50 126.33,247.50 126.60,247.50 126.86,247.50 127.13,247.50 127.40,247.50 127.67,247.50 127.94,247.50 128.20,247.50 128.47,247.50 128.74,247.50 129.01,247.50 129.28,247.50 129.54,247.50 129.81,247.50 130.08,247.50 130.35,247.50 130.62,247.50 130.88,247.50 131.15,247.50 131.42,247.50 131.69,247.50 131.96,247.50 132.22,247.50 132.49,247.50 132.76,247.50 133.03,247.50 133.30,247.50 133.56,247.50 133.83,247.50 134.10,247.50 134.37,247.50 134.64,247.50 134.90,247.50 135.17,247.50 135.44,211.97 135.71,247.50 135.98,247.50 136.24,247.50 136.51,247.50 136.78,247.50 137.05,247.50 137.32,247.50 137.58,247.50 137.85,247.50 138.12,247.50 138.39,247.50 138.66,247.50 138.92,247.50 139.19,247.50 139.46,247.50 139.73,247.50 140.00,247.50 140.26,247.50 140.53,247.50 140.80,247.50 141.07,247.50 141.34,247.50 141.60,247.50 141.87,247.50 142.14,247.50 142.41,247.50 142.68,247.50 142.94,247.50 143.21,247.50 143.48,247.50 143.75,247.50 144.02,247.50 144.28,247.50 144.55,247.50 144.82,247.50 145.09,247.50 145.36,247.50 145.62,247.50 145.89,247.50 146.16,247.50 146.43,247.50 146.70,247.50 146.96,247.50 147.23,247.50 147.50,247.50 147.77,247.50 148.04,247.50 148.30,247.50 148.57,247.50 148.84,247.50 149.11,247.50 149.38,247.50 149.64,247.50 149.91,247.50 150.18,247.50 150.45,247.50 150.72,247.50 150.98,247.50 151.25,247.50 151.52,247.50 151.79,247.50 152.06,247.50 152.32,247.50 152.59,247.50 152.86,247.50 153.13,247.50 153.40,247.50 153.66,247.50 153.93,247.50 154.20,247.50 154.47,247.50 154.74,247.50 155.00,247.50 155.27,247.50 155.54,247.50 155.81,247.50 156.08,247.50 156.34,247.50 156.61,247.50 156.88,247.50 157.15,247.50 157.42,247.50 157.68,247.50 157.95,247.50 158.22,247.50 158.49,247.50 158.76,247.50 159.02,247.50 159.29,247.50 159.56,247.50 159.83,247.50 160.10,247.50 160.36,247.50 160.63,247.50 160.90,247.50 161.17,247.50 161.44,247.50 161.70,247.50 161.97,247.50 162.24,247.50 162.51,247.50 162.78,247.50 163.04,247.50 163.31,247.50 163.58,247.50 163.85,247.50 164.12,247.50 164.38,247.50 164.65,247.50 164.92,247.50 165.19,247.50 165.46,247.50 165.72,247.50 165.99,247.50 166.26,247.50 166.53,247.50 166.80,247.50 167.06,247.50 167.33,247.50 167.60,247.50 167.87,247.50 168.14,247.50 168.40,247.50 168.67,247.50 168.94,247.50" fill="none" stroke="#0000ff" stroke-width="1.2" stroke-linejoin="round"/>
<rect x="97.4" y="210.5" width="73.9" height="38.5" fill="none" stroke="#6e6e6e" stroke-width="0.9"/>
<line x1="100.60" y1="249" x2="100.60" y2="250.5" stroke="#6e6e6e" stroke-width="0.6"/>
<text class="k" x="100.60" y="256.1" text-anchor="middle" font-size="4.62" textLength="2.22" lengthAdjust="spacingAndGlyphs">0</text>
<line x1="127.40" y1="249" x2="127.40" y2="250.5" stroke="#6e6e6e" stroke-width="0.6"/>
<text class="k" x="127.40" y="256.1" text-anchor="middle" font-size="4.62" textLength="6.65" lengthAdjust="spacingAndGlyphs">100</text>
<line x1="154.20" y1="249" x2="154.20" y2="250.5" stroke="#6e6e6e" stroke-width="0.6"/>
<text class="k" x="154.20" y="256.1" text-anchor="middle" font-size="4.62" textLength="6.65" lengthAdjust="spacingAndGlyphs">200</text>
<line x1="95.9" y1="247.60" x2="97.4" y2="247.60" stroke="#6e6e6e" stroke-width="0.6"/>
<text class="k" x="94.60000000000001" y="249.40" text-anchor="end" font-size="4.62" textLength="6.65" lengthAdjust="spacingAndGlyphs">0.0</text>
<line x1="95.9" y1="231.55" x2="97.4" y2="231.55" stroke="#6e6e6e" stroke-width="0.6"/>
<text class="k" x="94.60000000000001" y="233.35" text-anchor="end" font-size="4.62" textLength="6.65" lengthAdjust="spacingAndGlyphs">0.5</text>
<line x1="95.9" y1="215.50" x2="97.4" y2="215.50" stroke="#6e6e6e" stroke-width="0.6"/>
<text class="k" x="94.60000000000001" y="217.30" text-anchor="end" font-size="4.62" textLength="6.65" lengthAdjust="spacingAndGlyphs">1.0</text>
<text class="k" x="97.7" y="209.0" font-size="4.62" textLength="6.32" lengthAdjust="spacingAndGlyphs">1e5</text>
<text class="m" x="134.2" y="207.8" text-anchor="middle" font-size="4.81" textLength="27.2" lengthAdjust="spacingAndGlyphs">Pulse Noise</text>
<text class="k" x="134.5" y="262.6" text-anchor="middle" font-size="4.62">x</text>
<text class="k" transform="translate(84.1,230.5) rotate(-90)" text-anchor="middle" font-size="4.62">Y</text>
<rect x="257.6" y="200.2" width="103.39999999999998" height="67.80000000000001" fill="#fff"/>
<line x1="307.95" y1="210.4" x2="307.95" y2="250.3" stroke="#dcdcdc" stroke-width="0.5"/>
<line x1="338.50" y1="210.4" x2="338.50" y2="250.3" stroke="#dcdcdc" stroke-width="0.5"/>
<line x1="273.7" y1="248.00" x2="356.8" y2="248.00" stroke="#dcdcdc" stroke-width="0.5"/>
<line x1="273.7" y1="222.20" x2="356.8" y2="222.20" stroke="#dcdcdc" stroke-width="0.5"/>
<polyline points="277.40,227.14 277.71,226.18 278.01,225.35 278.32,224.34 278.62,223.97 278.93,222.90 279.23,223.77 279.54,222.24 279.84,220.56 280.15,220.19 280.45,218.84 280.76,219.36 281.07,217.82 281.37,217.37 281.68,216.19 281.98,215.49 282.29,215.86 282.59,214.84 282.90,214.08 283.20,212.29 283.51,212.98 283.82,214.50 284.12,213.77 284.43,215.38 284.73,214.93 285.04,216.24 285.34,216.89 285.65,215.74 285.95,217.35 286.26,217.89 286.56,217.17 286.87,218.04 287.18,219.76 287.48,219.22 287.79,220.65 288.09,221.07 288.40,222.59 288.70,221.93 289.01,223.05 289.31,223.22 289.62,224.49 289.93,226.90 290.23,228.13 290.54,229.82 290.84,231.20 291.15,232.69 291.45,233.60 291.76,234.39 292.06,247.74 292.37,246.89 292.67,246.68 292.98,246.75 293.29,246.21 293.59,246.65 293.90,246.01 294.20,246.30 294.51,247.00 294.81,245.78 295.12,246.61 295.42,246.25 295.73,246.97 296.04,247.04 296.34,247.02 296.65,245.95 296.95,246.62 297.26,247.04 297.56,247.06 297.87,246.78 298.17,247.00 298.48,246.77 298.78,245.68 299.09,247.05 299.40,244.88 299.70,246.65 300.01,246.93 300.31,245.68 300.62,246.60 300.92,247.06 301.23,246.85 301.53,247.09 301.84,246.18 302.15,245.98 302.45,246.99 302.76,246.88 303.06,247.02 303.37,246.71 303.67,244.39 303.98,244.39 304.28,246.87 304.59,246.52 304.89,245.77 305.20,246.92 305.51,246.68 305.81,247.01 306.12,246.91 306.42,245.68 306.73,246.46 307.03,246.79 307.34,247.09 307.64,244.62 307.95,246.64 308.26,246.58 308.56,246.99 308.87,247.04 309.17,246.41 309.48,246.83 309.78,246.59 310.09,246.94 310.39,245.98 310.70,246.98 311.00,247.03 311.31,246.11 311.62,247.06 311.92,246.53 312.23,246.48 312.53,246.40 312.84,246.87 313.14,246.01 313.45,246.86 313.75,246.83 314.06,245.42 314.37,246.86 314.67,246.74 314.98,245.21 315.28,246.53 315.59,246.25 315.89,244.94 316.20,246.53 316.50,246.93 316.81,247.02 317.11,246.51 317.42,246.96 317.73,246.59 318.03,246.79 318.34,246.70 318.64,244.76 318.95,247.00 319.25,246.67 319.56,246.66 319.86,246.98 320.17,246.91 320.48,246.97 320.78,246.21 321.09,246.77 321.39,245.70 321.70,246.90 322.00,246.23 322.31,246.84 322.61,246.38 322.92,247.07 323.22,246.61 323.53,246.98 323.84,246.70 324.14,245.18 324.45,247.02 324.75,246.94 325.06,246.70 325.36,246.39 325.67,246.85 325.97,247.03 326.28,245.68 326.59,246.72 326.89,245.95 327.20,246.83 327.50,246.59 327.81,246.79 328.11,246.42 328.42,246.96 328.72,246.64 329.03,246.58 329.33,246.43 329.64,245.84 329.95,246.67 330.25,246.52 330.56,246.23 330.86,245.68 331.17,245.79 331.47,246.50 331.78,246.93 332.08,246.79 332.39,246.01 332.70,246.47 333.00,246.06 333.31,246.31 333.61,246.98 333.92,246.94 334.22,246.28 334.53,246.67 334.83,246.30 335.14,245.40 335.44,246.73 335.75,246.46 336.06,246.75 336.36,246.98 336.67,246.37 336.97,247.07 337.28,246.98 337.58,246.80 337.89,245.60 338.19,246.88 338.50,246.80 338.81,246.81 339.11,246.43 339.42,246.53 339.72,246.95 340.03,247.07 340.33,246.93 340.64,245.76 340.94,246.76 341.25,243.74 341.55,243.74 341.86,246.53 342.17,246.97 342.47,246.58 342.78,246.61 343.08,246.78 343.39,245.86 343.69,247.08 344.00,247.09 344.30,246.75 344.61,246.86 344.92,246.88 345.22,246.96 345.53,246.85 345.83,246.66 346.14,245.37 346.44,246.94 346.75,246.56 347.05,246.73 347.36,246.73 347.66,245.68 347.97,246.18 348.28,246.85 348.58,246.27 348.89,245.61 349.19,246.79 349.50,246.71 349.80,246.66 350.11,246.56 350.41,245.90 350.72,246.59 351.03,246.40 351.33,246.96 351.64,245.42 351.94,246.22 352.25,246.85 352.55,247.10 352.86,246.44 353.16,246.81 353.47,246.64 353.77,246.53 354.08,246.71 354.39,245.75 354.69,246.76 355.00,246.94 355.30,246.74" fill="none" stroke="#0000ff" stroke-width="1.2" stroke-linejoin="round"/>
<rect x="273.7" y="210.4" width="83.10000000000002" height="39.900000000000006" fill="none" stroke="#6e6e6e" stroke-width="0.9"/>
<line x1="277.40" y1="250.3" x2="277.40" y2="251.8" stroke="#6e6e6e" stroke-width="0.6"/>
<text class="k" x="277.40" y="258.3" text-anchor="middle" font-size="5.27" textLength="2.53" lengthAdjust="spacingAndGlyphs">0</text>
<line x1="307.95" y1="250.3" x2="307.95" y2="251.8" stroke="#6e6e6e" stroke-width="0.6"/>
<text class="k" x="307.95" y="258.3" text-anchor="middle" font-size="5.27" textLength="7.58" lengthAdjust="spacingAndGlyphs">100</text>
<line x1="338.50" y1="250.3" x2="338.50" y2="251.8" stroke="#6e6e6e" stroke-width="0.6"/>
<text class="k" x="338.50" y="258.3" text-anchor="middle" font-size="5.27" textLength="7.58" lengthAdjust="spacingAndGlyphs">200</text>
<line x1="272.2" y1="248.00" x2="273.7" y2="248.00" stroke="#6e6e6e" stroke-width="0.6"/>
<text class="k" x="270.9" y="249.80" text-anchor="end" font-size="5.27" textLength="2.53" lengthAdjust="spacingAndGlyphs">0</text>
<line x1="272.2" y1="222.20" x2="273.7" y2="222.20" stroke="#6e6e6e" stroke-width="0.6"/>
<text class="k" x="270.9" y="224.00" text-anchor="end" font-size="5.27" textLength="2.53" lengthAdjust="spacingAndGlyphs">2</text>
<text class="k" x="274.0" y="208.6" font-size="5.27" textLength="7.21" lengthAdjust="spacingAndGlyphs">1e3</text>
<text class="m" x="315.0" y="207.9" text-anchor="middle" font-size="5.48" textLength="35.1" lengthAdjust="spacingAndGlyphs">Rayleigh Noise</text>
<text class="k" x="314.8" y="263.5" text-anchor="middle" font-size="5.27">x</text>
<text class="k" transform="translate(266.1,230.3) rotate(-90)" text-anchor="middle" font-size="5.27">Y</text>
<rect x="445.9" y="200.2" width="104.10000000000002" height="67.80000000000001" fill="#fff"/>
<line x1="495.00" y1="210.3" x2="495.00" y2="250.2" stroke="#dcdcdc" stroke-width="0.5"/>
<line x1="524.60" y1="210.3" x2="524.60" y2="250.2" stroke="#dcdcdc" stroke-width="0.5"/>
<line x1="462.4" y1="247.80" x2="544.8" y2="247.80" stroke="#dcdcdc" stroke-width="0.5"/>
<line x1="462.4" y1="228.30" x2="544.8" y2="228.30" stroke="#dcdcdc" stroke-width="0.5"/>
<polyline points="465.40,212.33 465.70,216.60 465.99,220.45 466.29,223.32 466.58,226.66 466.88,228.92 467.18,230.93 467.47,233.33 467.77,234.79 468.06,236.28 468.36,237.92 468.66,238.91 468.95,239.76 469.25,240.81 469.54,241.46 469.84,242.47 470.14,243.04 470.43,243.65 470.73,243.91 471.02,244.11 471.32,244.66 471.62,244.88 471.91,245.38 472.21,245.44 472.50,246.01 472.80,246.10 473.10,246.06 473.39,246.19 473.69,246.48 473.98,246.78 474.28,246.79 474.58,246.91 474.87,246.95 475.17,246.73 475.46,247.13 475.76,246.80 476.06,246.86 476.35,247.35 476.65,247.21 476.94,247.18 477.24,247.46 477.54,247.27 477.83,247.03 478.13,247.48 478.42,247.23 478.72,247.51 479.02,247.27 479.31,247.11 479.61,247.50 479.90,247.61 480.20,247.58 480.50,247.34 480.79,247.63 481.09,247.60 481.38,247.38 481.68,247.15 481.98,247.43 482.27,247.44 482.57,247.31 482.86,247.61 483.16,247.35 483.46,247.57 483.75,247.34 484.05,247.15 484.34,247.64 484.64,247.37 484.94,247.34 485.23,247.59 485.53,247.53 485.82,247.13 486.12,247.13 486.42,247.61 486.71,247.29 487.01,247.16 487.30,247.55 487.60,247.35 487.90,247.66 488.19,247.48 488.49,247.31 488.78,247.36 489.08,247.26 489.38,247.63 489.67,247.49 489.97,247.21 490.26,247.36 490.56,247.44 490.86,247.46 491.15,247.14 491.45,247.37 491.74,247.67 492.04,247.25 492.34,247.50 492.63,247.45 492.93,247.57 493.22,247.44 493.52,247.51 493.82,247.63 494.11,247.34 494.41,247.63 494.70,247.25 495.00,244.85 495.30,244.31 495.59,244.17 495.89,244.20 496.18,243.94 496.48,244.05 496.78,243.62 497.07,243.64 497.37,243.58 497.66,243.00 497.96,243.13 498.26,242.97 498.55,242.51 498.85,242.59 499.14,242.23 499.44,242.30 499.74,241.73 500.03,241.83 500.33,241.74 500.62,241.02 500.92,241.23 501.22,240.59 501.51,240.35 501.81,240.33 502.10,240.43 502.40,240.18 502.70,239.88 502.99,239.56 503.29,239.22 503.58,238.80 503.88,238.92 504.18,238.83 504.47,238.39 504.77,238.42 505.06,238.26 505.36,237.81 505.66,237.55 505.95,237.72 506.25,237.34 506.54,237.04 506.84,236.86 507.14,236.93 507.43,236.53 507.73,236.80 508.02,236.40 508.32,236.27 508.62,236.13 508.91,236.27 509.21,236.42 509.50,236.41 509.80,236.11 510.10,236.28 510.39,236.03 510.69,236.33 510.98,235.97 511.28,236.31 511.58,236.46 511.87,236.43 512.17,236.34 512.46,236.36 512.76,236.54 513.06,236.75 513.35,236.69 513.65,236.56 513.94,236.91 514.24,236.83 514.54,237.47 514.83,237.10 515.13,237.32 515.42,237.68 515.72,237.87 516.02,238.05 516.31,238.04 516.61,238.70 516.90,238.58 517.20,238.85 517.50,239.19 517.79,239.17 518.09,239.39 518.38,239.95 518.68,239.84 518.98,240.20 519.27,240.41 519.57,240.55 519.86,241.10 520.16,241.02 520.46,241.37 520.75,241.32 521.05,241.89 521.34,241.79 521.64,242.05 521.94,242.32 522.23,242.40 522.53,243.06 522.82,242.96 523.12,243.15 523.42,243.31 523.71,243.64 524.01,244.01 524.30,244.13 524.60,244.08 524.90,244.48 525.19,244.71 525.49,244.71 525.78,244.80 526.08,244.92 526.38,245.34 526.67,245.07 526.97,245.45 527.26,245.33 527.56,245.87 527.86,245.48 528.15,245.79 528.45,245.68 528.74,245.78 529.04,245.96 529.34,246.45 529.63,246.41 529.93,246.56 530.22,246.34 530.52,246.74 530.82,246.79 531.11,246.92 531.41,246.98 531.70,246.59 532.00,246.63 532.30,247.01 532.59,246.86 532.89,247.05 533.18,247.07 533.48,247.19 533.78,247.08 534.07,247.34 534.37,247.36 534.66,247.25 534.96,247.45 535.26,247.35 535.55,247.09 535.85,247.62 536.14,247.60 536.44,247.24 536.74,247.66 537.03,247.57 537.33,247.26 537.62,247.41 537.92,247.63 538.22,247.73 538.51,247.62 538.81,247.62 539.10,247.35 539.40,247.27 539.70,247.38 539.99,247.32 540.29,247.31 540.58,247.35 540.88,247.33" fill="none" stroke="#0000ff" stroke-width="1.2" stroke-linejoin="round"/>
<rect x="462.4" y="210.3" width="82.39999999999998" height="39.89999999999998" fill="none" stroke="#6e6e6e" stroke-width="0.9"/>
<line x1="465.40" y1="250.2" x2="465.40" y2="251.7" stroke="#6e6e6e" stroke-width="0.6"/>
<text class="k" x="465.40" y="257.4" text-anchor="middle" font-size="5.10" textLength="2.45" lengthAdjust="spacingAndGlyphs">0</text>
<line x1="495.00" y1="250.2" x2="495.00" y2="251.7" stroke="#6e6e6e" stroke-width="0.6"/>
<text class="k" x="495.00" y="257.4" text-anchor="middle" font-size="5.10" textLength="7.35" lengthAdjust="spacingAndGlyphs">100</text>
<line x1="524.60" y1="250.2" x2="524.60" y2="251.7" stroke="#6e6e6e" stroke-width="0.6"/>
<text class="k" x="524.60" y="257.4" text-anchor="middle" font-size="5.10" textLength="7.35" lengthAdjust="spacingAndGlyphs">200</text>
<line x1="460.9" y1="247.80" x2="462.4" y2="247.80" stroke="#6e6e6e" stroke-width="0.6"/>
<text class="k" x="459.59999999999997" y="249.60" text-anchor="end" font-size="5.10" textLength="2.45" lengthAdjust="spacingAndGlyphs">0</text>
<line x1="460.9" y1="228.30" x2="462.4" y2="228.30" stroke="#6e6e6e" stroke-width="0.6"/>
<text class="k" x="459.59999999999997" y="230.10" text-anchor="end" font-size="5.10" textLength="2.45" lengthAdjust="spacingAndGlyphs">5</text>
<text class="k" x="462.7" y="208.9" font-size="5.10" textLength="6.98" lengthAdjust="spacingAndGlyphs">1e3</text>
<text class="m" x="503.35" y="207.8" text-anchor="middle" font-size="5.31" textLength="43.9" lengthAdjust="spacingAndGlyphs">Exponential Noise</text>
<text class="k" x="503.2" y="263.3" text-anchor="middle" font-size="5.10">x</text>
<text class="k" transform="translate(454.5,230) rotate(-90)" text-anchor="middle" font-size="5.10">Y</text>
</svg></body></html>
